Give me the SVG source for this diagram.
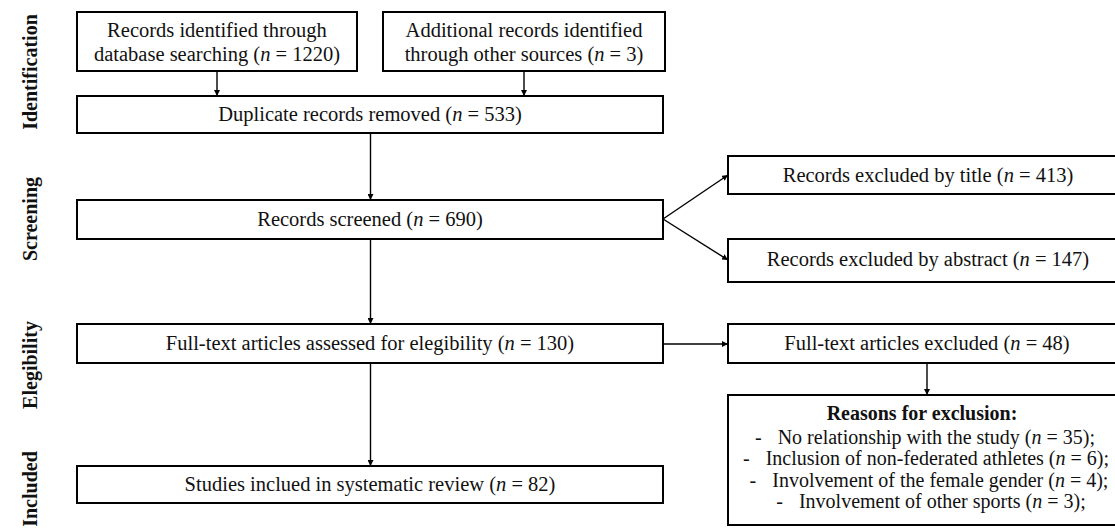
<svg xmlns="http://www.w3.org/2000/svg" width="1115" height="529" viewBox="0 0 1115 529">
<style>
  .box { fill: #ffffff; stroke: #000000; stroke-width: 2; }
  .t { font-family: "Liberation Serif", "Times New Roman", serif; font-size: 20.5px; fill: #111111; text-anchor: middle; }
  .r { font-size: 20px; }
  .lab { font-family: "Liberation Serif", "Times New Roman", serif; font-size: 20px; font-weight: bold; fill: #111111; text-anchor: middle; }
  .b { font-weight: bold; }
  .i { font-style: italic; }
  .c { fill: none; stroke: #000000; stroke-width: 1.4; }
</style>
<defs>
  <marker id="ah" viewBox="0 0 10 10" refX="10" refY="5" markerWidth="6" markerHeight="6" markerUnits="userSpaceOnUse" orient="auto">
    <path d="M0,0 L10,5 L0,10 z" fill="#000000"/>
  </marker>
</defs>
<rect x="0" y="0" width="1115" height="529" fill="#ffffff"/>

<g id="phase-labels">
  <text class="lab" transform="translate(37,72) rotate(-90)">Identification</text>
  <text class="lab" transform="translate(37,219) rotate(-90)">Screening</text>
  <text class="lab" transform="translate(37,365) rotate(-90)">Elegibility</text>
  <text class="lab" transform="translate(37,489) rotate(-90)">Included</text>
</g>

<g id="connectors">
  <line class="c" x1="217" y1="71" x2="217" y2="96" marker-end="url(#ah)"/>
  <line class="c" x1="524" y1="71" x2="524" y2="96" marker-end="url(#ah)"/>
  <line class="c" x1="370.5" y1="133" x2="370.5" y2="200" marker-end="url(#ah)"/>
  <line class="c" x1="663" y1="219" x2="728" y2="175" marker-end="url(#ah)"/>
  <line class="c" x1="663" y1="219" x2="728" y2="260" marker-end="url(#ah)"/>
  <line class="c" x1="370.5" y1="239" x2="370.5" y2="324" marker-end="url(#ah)"/>
  <line class="c" x1="663" y1="344" x2="728" y2="344" marker-end="url(#ah)"/>
  <line class="c" x1="927" y1="363" x2="927" y2="395" marker-end="url(#ah)"/>
  <line class="c" x1="370.5" y1="363" x2="370.5" y2="466" marker-end="url(#ah)"/>
</g>

<g id="n-database">
  <rect class="box" x="77" y="12" width="280" height="59"/>
  <text class="t" x="217" y="37">Records identified through</text>
  <text class="t" x="217" y="61">database searching (<tspan class="i">n</tspan> = 1220)</text>
</g>
<g id="n-other">
  <rect class="box" x="383" y="12" width="282" height="59"/>
  <text class="t" x="524" y="37">Additional records identified</text>
  <text class="t" x="524" y="61">through other sources (<tspan class="i">n</tspan> = 3)</text>
</g>
<g id="n-duplicates">
  <rect class="box" x="77" y="96" width="586" height="37"/>
  <text class="t" x="370" y="121">Duplicate records removed (<tspan class="i">n</tspan> = 533)</text>
</g>
<g id="n-screened">
  <rect class="box" x="77" y="200" width="586" height="39"/>
  <text class="t" x="370" y="226">Records screened (<tspan class="i">n</tspan> = 690)</text>
</g>
<g id="n-excl-title">
  <rect class="box" x="728" y="156" width="398" height="38"/>
  <text class="t" x="928" y="182">Records excluded by title (<tspan class="i">n</tspan> = 413)</text>
</g>
<g id="n-excl-abstract">
  <rect class="box" x="728" y="239" width="398" height="43"/>
  <text class="t" x="928" y="266">Records excluded by abstract (<tspan class="i">n</tspan> = 147)</text>
</g>
<g id="n-assessed">
  <rect class="box" x="77" y="324" width="586" height="39"/>
  <text class="t" x="370" y="350">Full-text articles assessed for elegibility (<tspan class="i">n</tspan> = 130)</text>
</g>
<g id="n-excl-fulltext">
  <rect class="box" x="728" y="324" width="398" height="39"/>
  <text class="t" x="927" y="350">Full-text articles excluded (<tspan class="i">n</tspan> = 48)</text>
</g>
<g id="n-reasons">
  <rect class="box" x="728" y="395" width="398" height="130"/>
  <text class="t r b" x="922" y="420">Reasons for exclusion:</text>
  <text class="t r" x="925" y="444">-<tspan dx="16">No relationship with the study (</tspan><tspan class="i">n</tspan> = 35);</text>
  <text class="t r" x="926" y="465">-<tspan dx="16">Inclusion of non-federated athletes (</tspan><tspan class="i">n</tspan> = 6);</text>
  <text class="t r" x="929" y="487">-<tspan dx="16">Involvement of the female gender (</tspan><tspan class="i">n</tspan> = 4);</text>
  <text class="t r" x="931" y="508">-<tspan dx="16">Involvement of other sports (</tspan><tspan class="i">n</tspan> = 3);</text>
</g>
<g id="n-included">
  <rect class="box" x="77" y="466" width="586" height="37"/>
  <text class="t" x="370" y="491">Studies inclued in systematic review (<tspan class="i">n</tspan> = 82)</text>
</g>
</svg>
